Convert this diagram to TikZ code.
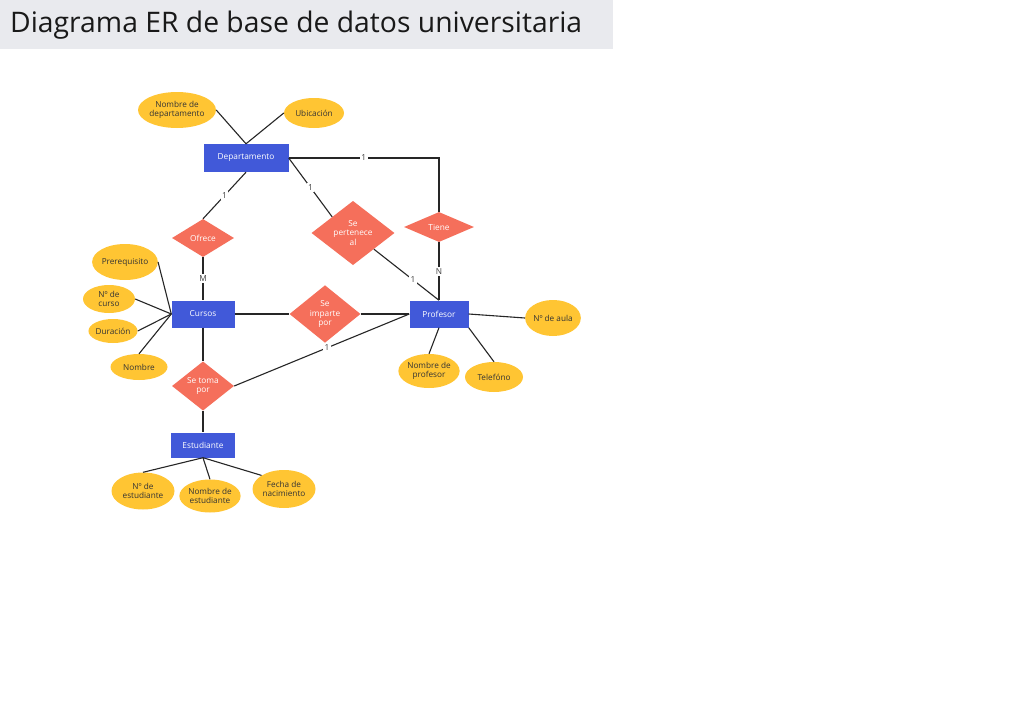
\documentclass[tikz,border=0pt]{standalone}
\usepackage{fontspec}
\setmainfont{Open Sans}
\usetikzlibrary{shapes.geometric}

\definecolor{entblue}{HTML}{4159D9}
\definecolor{relred}{HTML}{F56F5B}
\definecolor{attyellow}{HTML}{FFC533}
\definecolor{titlegray}{HTML}{E9EAEE}

\tikzset{
    entity/.style={rectangle, fill=entblue, text=white, inner sep=0pt, font=\fontsize{8.3}{9.5}\selectfont},
    relation/.style={diamond, fill=relred, text=white, inner sep=0pt, align=center, font=\fontsize{8.3}{9.5}\selectfont},
    attribute/.style={ellipse, fill=attyellow, text=black!80, inner sep=0pt, align=center, font=\fontsize{8.2}{9.5}\selectfont},
    card/.style={fill=white, inner sep=1.5pt, text=black!75, font=\fontsize{8.3}{9.5}\selectfont},
    link/.style={draw=black!85, line width=1.1pt}
}

\begin{document}
\begin{tikzpicture}[x=1pt, y=-1pt]
    \useasboundingbox[fill=white] (0,0) rectangle (1023,720);
    \fill[titlegray] (0,0) rectangle (613,49);
    \node at (10,32) [anchor=base west, inner sep=0pt, font=\fontsize{28.3}{32}\selectfont, text=black!90] (title) {Diagrama ER de base de datos universitaria};

    \node at (246,158) [entity, minimum width=85pt, minimum height=28pt] (Departamento) {Departamento};
    \node at (203,314) [entity, minimum width=63pt, minimum height=27pt] (Cursos) {Cursos};
    \node at (439,314) [entity, minimum width=59pt, minimum height=27pt] (Profesor) {Profesor};
    \node at (203,445) [entity, minimum width=64pt, minimum height=25pt] (Estudiante) {Estudiante};

    \node at (203,238) [relation, minimum width=62pt, minimum height=38pt] (Ofrece) {Ofrece};
    \node at (353,233) [relation, minimum width=83pt, minimum height=55pt] (Pertenece) {Se\\pertenece\\al};
    \node at (439,227) [relation, minimum width=70pt, minimum height=30pt] (Tiene) {Tiene};
    \node at (325,314) [relation, minimum width=71pt, minimum height=56pt] (Imparte) {Se\\imparte\\por};
    \node at (203,386) [relation, minimum width=62pt, minimum height=38pt] (Toma) {Se toma\\por};

    \node at (177,110) [attribute, minimum width=78pt, minimum height=36pt] (NombreDep) {Nombre de\\departamento};
    \node at (314,113) [attribute, minimum width=60pt, minimum height=30pt] (Ubicacion) {Ubicación};
    \node at (125,262) [attribute, minimum width=62pt, minimum height=36pt] (Prerequisito) {Prerequisito};
    \node at (109,299) [attribute, minimum width=52pt, minimum height=28pt] (NumCurso) {Nº de\\curso};
    \node at (113,331) [attribute, minimum width=48pt, minimum height=24pt] (Duracion) {Duración};
    \node at (139,367) [attribute, minimum width=57pt, minimum height=26pt] (NombreCurso) {Nombre};
    \node at (553,318) [attribute, minimum width=53pt, minimum height=36pt] (NumAula) {Nº de aula};
    \node at (429,371) [attribute, minimum width=58pt, minimum height=34pt] (NombreProf) {Nombre de\\profesor};
    \node at (494,377) [attribute, minimum width=58pt, minimum height=30pt] (Telefono) {Telefóno};
    \node at (143,491) [attribute, minimum width=63pt, minimum height=37pt] (NumEst) {Nº de\\estudiante};
    \node at (210,496) [attribute, minimum width=57pt, minimum height=33pt] (NombreEst) {Nombre de\\estudiante};
    \node at (284,489) [attribute, minimum width=63pt, minimum height=38pt] (Fecha) {Fecha de\\nacimiento};

    \draw[link] (NombreDep.east) -- (Departamento.north);
    \draw[link] (Ubicacion.west) -- (Departamento.north);
    \draw[link] (Departamento.south) -- node[card] {1} (Ofrece.north);
    \draw[link] (Departamento.east) -- node[card] {1} (Pertenece.north west);
    \draw[link] (Departamento.east) -| node[card, pos=0.25] {1} (Tiene.north);
    \draw[link] (Tiene.south) -- node[card] {N} (Profesor.north);
    \draw[link] (Pertenece.south east) -- node[card, pos=0.6] {1} (Profesor.north);
    \draw[link] (Ofrece.south) -- node[card] {M} (Cursos.north);
    \draw[link] (Cursos.east) -- (Imparte.west);
    \draw[link] (Imparte.east) -- (Profesor.west);
    \draw[link] (Cursos.south) -- (Toma.north);
    \draw[link] (Toma.east) -- node[card, pos=0.53] {1} (Profesor.west);
    \draw[link] (Toma.south) -- (Estudiante.north);

    \draw[link] (Prerequisito.east) -- (Cursos.west);
    \draw[link] (NumCurso.east) -- (Cursos.west);
    \draw[link] (Duracion.east) -- (Cursos.west);
    \draw[link] (NombreCurso.north) -- (Cursos.west);
    \draw[link] (Profesor.east) -- (NumAula.west);
    \draw[link] (Profesor.south) -- (NombreProf.north);
    \draw[link] (Profesor.south east) -- (Telefono.north);
    \draw[link] (Estudiante.south) -- (NumEst.north);
    \draw[link] (Estudiante.south) -- (NombreEst.north);
    \draw[link] (Estudiante.south) -- (Fecha.north west);
\end{tikzpicture}
\end{document}
